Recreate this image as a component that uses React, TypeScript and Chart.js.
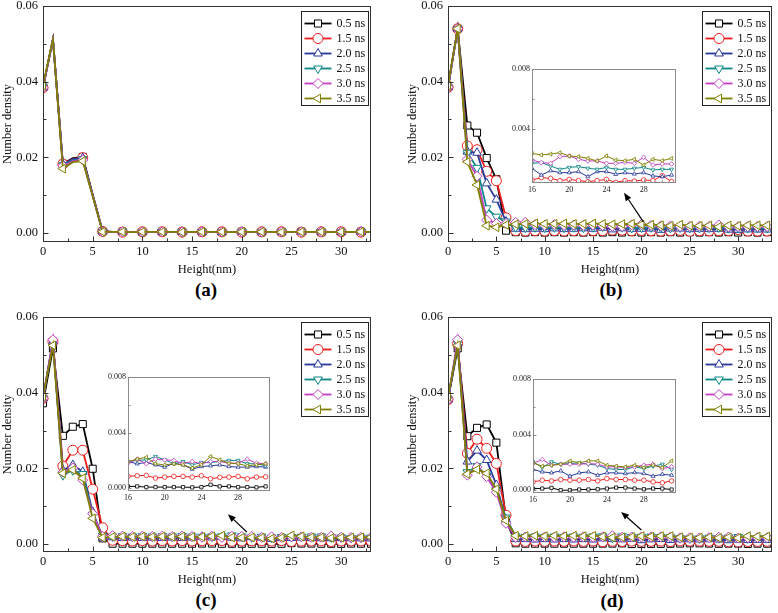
import React, { useEffect, useRef } from "react";
import { Chart, registerables } from "chart.js";

Chart.register(...registerables);

// ---------------- DATA ----------------
const HEIGHTS = [0, 1, 2, 3, 4, 5, 6, 7, 8, 9, 10, 11, 12, 13, 14, 15, 16, 17, 18, 19, 20, 21, 22, 23, 24, 25, 26, 27, 28, 29, 30, 31, 32, 33];
const SERIES_LABELS = ["0.5 ns", "1.5 ns", "2.0 ns", "2.5 ns", "3.0 ns", "3.5 ns"];
const SERIES_COLORS = ["#000000", "#ee1c1c", "#27389a", "#0e8787", "#c23ec2", "#808000"];
const POINT_STYLES = ["rect", "circle", "triangle", "triangle", "rectRot", "triangle"];
const POINT_ROTATIONS = [0, 0, 0, 180, 0, 270];

const MAIN_X_TICKS = [0, 5, 10, 15, 20, 25, 30];
const MAIN_Y_TICKS = [0, 0.02, 0.04, 0.06];
const INSET_X_TICKS = [16, 20, 24, 28];
const INSET_Y_TICKS = [0, 0.004, 0.008];
const INSET_HEIGHT_RANGE = [16, 31];
const X_TITLE = "Height(nm)";
const Y_TITLE = "Number density";
const PANEL_LETTERS = ["(a)", "(b)", "(c)", "(d)"];

// panel (a)
const A_05 = [0.0385, 0.0512, 0.0183, 0.0198, 0.0201, 0.0101,
  0.0004, 0.0003, 0.0003, 0.0003, 0.0002, 0.0003, 0.0003, 0.0002, 0.0003, 0.0003,
  0.0002, 0.0003, 0.0003, 0.0002, 0.0003, 0.0003, 0.0002, 0.0003, 0.0003, 0.0002,
  0.0003, 0.0003, 0.0002, 0.0003, 0.0003, 0.0002, 0.0003, 0.0003];
const A_15 = [0.0384, 0.0512, 0.0182, 0.0196, 0.0199, 0.0100,
  0.0004, 0.0003, 0.0002, 0.0003, 0.0003, 0.0002, 0.0003, 0.0003, 0.0002, 0.0003,
  0.0003, 0.0002, 0.0003, 0.0003, 0.0002, 0.0003, 0.0003, 0.0002, 0.0003, 0.0003,
  0.0002, 0.0003, 0.0003, 0.0002, 0.0003, 0.0003, 0.0002, 0.0003];
const A_20 = [0.0384, 0.0512, 0.0181, 0.0195, 0.0198, 0.0100,
  0.0004, 0.0003, 0.0003, 0.0002, 0.0003, 0.0003, 0.0002, 0.0003, 0.0003, 0.0002,
  0.0003, 0.0003, 0.0002, 0.0003, 0.0003, 0.0002, 0.0003, 0.0003, 0.0002, 0.0003,
  0.0003, 0.0002, 0.0003, 0.0003, 0.0002, 0.0003, 0.0003, 0.0002];
const A_25 = [0.0386, 0.0512, 0.0179, 0.0192, 0.0195, 0.0099,
  0.0003, 0.0003, 0.0003, 0.0003, 0.0002, 0.0003, 0.0003, 0.0003, 0.0002, 0.0003,
  0.0003, 0.0003, 0.0002, 0.0003, 0.0003, 0.0003, 0.0002, 0.0003, 0.0003, 0.0003,
  0.0002, 0.0003, 0.0003, 0.0003, 0.0002, 0.0003, 0.0003, 0.0003];
const A_30 = [0.0384, 0.0512, 0.0177, 0.0190, 0.0193, 0.0098,
  0.0003, 0.0002, 0.0003, 0.0003, 0.0003, 0.0002, 0.0003, 0.0003, 0.0003, 0.0002,
  0.0003, 0.0003, 0.0003, 0.0002, 0.0003, 0.0003, 0.0003, 0.0002, 0.0003, 0.0003,
  0.0003, 0.0002, 0.0003, 0.0003, 0.0003, 0.0002, 0.0003, 0.0003];
const A_35 = [0.0390, 0.0512, 0.0170, 0.0187, 0.0190, 0.0097,
  0.0003, 0.0003, 0.0003, 0.0002, 0.0003, 0.0003, 0.0003, 0.0003, 0.0002, 0.0003,
  0.0003, 0.0003, 0.0003, 0.0002, 0.0003, 0.0003, 0.0003, 0.0003, 0.0002, 0.0003,
  0.0003, 0.0003, 0.0003, 0.0002, 0.0003, 0.0003, 0.0003, 0.0003];

// panel (b)
const B_05 = [0.0385, 0.0540, 0.0284, 0.0265, 0.0198, 0.0142,
  0.0006, 0.0002, 0.0001, 0.0002, 0.0001, 0.0002, 0.0001, 0.0002, 0.0001, 0.0002,
  0.0001, 0.0002, 0.0001, 0.0002, 0.0001, 0.0002, 0.0001, 0.0002, 0.0001, 0.0002,
  0.0001, 0.0002, 0.0001, 0.0002, 0.0001, 0.0002, 0.0001, 0.0002];
const B_15 = [0.0385, 0.0540, 0.0230, 0.0220, 0.0163, 0.0138,
  0.0040, 0.0006, 0.0005, 0.0006, 0.0005, 0.0006, 0.0005, 0.0006, 0.0005, 0.0006,
  0.0006, 0.00076, 0.00071, 0.00056, 0.00064, 0.00056, 0.00049, 0.00056, 0.00064, 0.00044,
  0.00056, 0.00053, 0.0006, 0.00056, 0.00089, 0.00049, 0.0005, 0.0005];
const B_20 = [0.0385, 0.0540, 0.0215, 0.0212, 0.0131, 0.0088,
  0.0030, 0.0011, 0.0010, 0.0011, 0.0010, 0.0012, 0.0010, 0.0011, 0.0012, 0.0011,
  0.00138, 0.00093, 0.00122, 0.00109, 0.00109, 0.00116, 0.00082, 0.00116, 0.00116, 0.00098,
  0.00109, 0.0010, 0.00109, 0.00087, 0.00082, 0.00093, 0.0009, 0.0009];
const B_25 = [0.0385, 0.0540, 0.0212, 0.0172, 0.0065, 0.0043,
  0.0030, 0.0015, 0.0014, 0.0015, 0.0014, 0.0015, 0.0014, 0.0015, 0.0014, 0.0015,
  0.00171, 0.00176, 0.00153, 0.00131, 0.00144, 0.00149, 0.00138, 0.00131, 0.00144, 0.00131,
  0.00131, 0.00138, 0.00144, 0.00127, 0.00131, 0.00131, 0.0013, 0.0013];
const B_30 = [0.0385, 0.0540, 0.0195, 0.0150, 0.0034, 0.0025,
  0.0025, 0.0028, 0.0028, 0.0022, 0.0020, 0.0022, 0.0020, 0.0021, 0.0020, 0.0021,
  0.00193, 0.00176, 0.00171, 0.00216, 0.0022, 0.00198, 0.00187, 0.00187, 0.00171, 0.00171,
  0.00178, 0.00171, 0.00211, 0.0016, 0.00167, 0.00167, 0.0017, 0.0017];
const B_35 = [0.0390, 0.0540, 0.0188, 0.0127, 0.0019, 0.0015,
  0.0021, 0.0023, 0.0024, 0.0025, 0.0024, 0.0024, 0.0025, 0.0024, 0.0024, 0.0025,
  0.00238, 0.00227, 0.00233, 0.00242, 0.0022, 0.00216, 0.00204, 0.00187, 0.0022, 0.00193,
  0.00189, 0.00198, 0.0016, 0.00198, 0.00189, 0.00204, 0.0020, 0.0020];

// panel (c)
const C_05 = [0.0372, 0.0517, 0.0286, 0.0310, 0.0317, 0.0199,
  0.0015, 0.0001, 0.0001, 0.0001, 0.0001, 0.0001, 0.0001, 0.0001, 0.0001, 0.0001,
  0.00013, 0.00013, 0.00008, 0.00008, 0.00008, 0.00008, 0.00008, 0.00006, 0.00008, 0.00025,
  0.00013, 0.00013, 0.00008, 0.00008, 0.00006, 0.00013, 0.0001, 0.0001];
const C_15 = [0.0385, 0.0535, 0.0206, 0.0248, 0.0248, 0.0145,
  0.0043, 0.0010, 0.0009, 0.0008, 0.0009, 0.0008, 0.0009, 0.0008, 0.0009, 0.0008,
  0.00085, 0.0009, 0.00092, 0.00073, 0.0008, 0.00085, 0.00085, 0.0008, 0.0009, 0.00068,
  0.00078, 0.0008, 0.00085, 0.00068, 0.0008, 0.00082, 0.0008, 0.0008];
const C_20 = [0.0385, 0.0535, 0.0195, 0.0209, 0.0191, 0.0085,
  0.0017, 0.0018, 0.0016, 0.0017, 0.0016, 0.0017, 0.0016, 0.0017, 0.0016, 0.0017,
  0.00192, 0.00176, 0.00185, 0.00168, 0.00152, 0.0018, 0.00168, 0.00137, 0.00156, 0.00161,
  0.00168, 0.00156, 0.00152, 0.00152, 0.00156, 0.00152, 0.0015, 0.0015];
const C_25 = [0.0385, 0.0535, 0.0182, 0.0195, 0.0185, 0.0077,
  0.0022, 0.0020, 0.0021, 0.0020, 0.0021, 0.0020, 0.0021, 0.0020, 0.0021, 0.0020,
  0.00192, 0.0020, 0.00204, 0.00228, 0.00204, 0.00176, 0.00192, 0.00168, 0.00185, 0.00185,
  0.00192, 0.0020, 0.0020, 0.00176, 0.00176, 0.00161, 0.0017, 0.0017];
const C_30 = [0.0385, 0.0540, 0.0190, 0.0201, 0.0169, 0.0080,
  0.0020, 0.0022, 0.0021, 0.0020, 0.0021, 0.0020, 0.0021, 0.0020, 0.0021, 0.0020,
  0.0018, 0.00209, 0.00176, 0.00209, 0.00204, 0.0020, 0.00176, 0.00192, 0.00176, 0.00192,
  0.00192, 0.0018, 0.0018, 0.00209, 0.0018, 0.00176, 0.0018, 0.0018];
const C_35 = [0.0390, 0.0525, 0.0187, 0.0196, 0.0174, 0.0068,
  0.0017, 0.0019, 0.0020, 0.0019, 0.0020, 0.0019, 0.0020, 0.0019, 0.0020, 0.0019,
  0.00192, 0.00209, 0.00223, 0.00176, 0.00168, 0.00176, 0.00168, 0.00145, 0.00168, 0.00228,
  0.00204, 0.0018, 0.00176, 0.00161, 0.00168, 0.00176, 0.0018, 0.0018];

// panel (d)
const D_05 = [0.0382, 0.0517, 0.0285, 0.0307, 0.0316, 0.0268,
  0.0063, 0.0002, 0.0001, 0.0001, 0.0001, 0.0001, 0.0001, 0.0001, 0.0001, 0.0001,
  0.00012, 0.00012, 0.00017, 0.0000, 0.0000, 0.00005, 0.00005, 0.00007, 0.00012, 0.00019,
  0.00019, 0.00012, 0.00007, 0.00012, 0.00012, 0.00005, 0.0001, 0.0001];
const D_15 = [0.0382, 0.0530, 0.0240, 0.0277, 0.0253, 0.0213,
  0.0076, 0.0008, 0.0007, 0.0008, 0.0007, 0.0008, 0.0007, 0.0008, 0.0007, 0.0008,
  0.0006, 0.00072, 0.00067, 0.00077, 0.00072, 0.00072, 0.00077, 0.00067, 0.00084, 0.00077,
  0.00077, 0.00072, 0.00072, 0.0006, 0.00053, 0.00067, 0.0007, 0.0007];
const D_20 = [0.0382, 0.0530, 0.0218, 0.0247, 0.0222, 0.0156,
  0.0065, 0.0013, 0.0013, 0.0012, 0.0013, 0.0012, 0.0013, 0.0012, 0.0013, 0.0012,
  0.00149, 0.00132, 0.00125, 0.00139, 0.00101, 0.00125, 0.00132, 0.00108, 0.00125, 0.00125,
  0.0012, 0.00127, 0.0012, 0.00101, 0.00115, 0.00108, 0.0011, 0.0011];
const D_25 = [0.0382, 0.0530, 0.0190, 0.0206, 0.0180, 0.0140,
  0.0070, 0.0020, 0.0019, 0.0020, 0.0019, 0.0020, 0.0019, 0.0020, 0.0019, 0.0020,
  0.00204, 0.00163, 0.00204, 0.00187, 0.00192, 0.00197, 0.00187, 0.0018, 0.00156, 0.00149,
  0.00149, 0.00168, 0.00156, 0.00173, 0.00187, 0.00149, 0.0016, 0.0016];
const D_30 = [0.0382, 0.0540, 0.0182, 0.0204, 0.0178, 0.0137,
  0.0055, 0.0018, 0.0019, 0.0018, 0.0019, 0.0018, 0.0019, 0.0018, 0.0019, 0.0018,
  0.00192, 0.00221, 0.0018, 0.00187, 0.00187, 0.00187, 0.00192, 0.00187, 0.00168, 0.00168,
  0.00163, 0.00168, 0.0018, 0.00187, 0.00156, 0.00168, 0.0017, 0.0017];
const D_35 = [0.0390, 0.0525, 0.0185, 0.0197, 0.0187, 0.0145,
  0.0062, 0.0022, 0.0021, 0.0022, 0.0021, 0.0022, 0.0021, 0.0022, 0.0021, 0.0022,
  0.00197, 0.00173, 0.0018, 0.00187, 0.00211, 0.00197, 0.00211, 0.00211, 0.0018, 0.00173,
  0.00168, 0.0018, 0.00163, 0.0018, 0.00163, 0.00211, 0.0020, 0.0020];

const PANEL_SERIES = [
  [A_05, A_15, A_20, A_25, A_30, A_35],
  [B_05, B_15, B_20, B_25, B_30, B_35],
  [C_05, C_15, C_20, C_25, C_30, C_35],
  [D_05, D_15, D_20, D_25, D_30, D_35],
];

// ---------------- LAYOUT / STYLE ----------------
const FONT = "'Liberation Serif', 'Times New Roman', serif";
const TEXT = "#111111";

const PANELS = [
  { left: 0, top: -8, width: 380, height: 285, padRight: 9, xMax: 33, yMin: -0.0024, markEvery: 2,
    letter: { x: 206, y: 290 }, inset: null, arrow: null },
  { left: 405, top: -8, width: 373, height: 285, padRight: 2, xMax: 33.5, yMin: -0.0024, markEvery: 1,
    letter: { x: 611, y: 290 },
    inset: { left: 510, top: 61, width: 171, height: 134, yMin: 0.0004 },
    arrow: { from: [20.2, 0.0029], to: [18.2, 0.0106] } },
  { left: 0, top: 303, width: 380, height: 284, padRight: 9, xMax: 33, yMin: -0.0021, markEvery: 1,
    letter: { x: 206, y: 600 },
    inset: { left: 106, top: 369, width: 169, height: 134, yMin: -0.0002 },
    arrow: { from: [20.5, 0.0032], to: [18.6, 0.0079] } },
  { left: 405, top: 303, width: 373, height: 284, padRight: 2, xMax: 33.5, yMin: -0.0021, markEvery: 1,
    letter: { x: 612, y: 601 },
    inset: { left: 511, top: 371, width: 170, height: 134, yMin: -0.0002 },
    arrow: { from: [20.0, 0.0037], to: [17.9, 0.0085] } },
];

function drawMarker(ctx: CanvasRenderingContext2D, style: string, rotDeg: number, x: number, y: number, r: number) {
  ctx.beginPath();
  if (style === "circle") {
    ctx.arc(x, y, r, 0, Math.PI * 2);
  } else if (style === "rect") {
    const s = r * Math.SQRT1_2;
    ctx.rect(x - s, y - s, 2 * s, 2 * s);
  } else if (style === "rectRot") {
    ctx.moveTo(x, y - r);
    ctx.lineTo(x + r, y);
    ctx.lineTo(x, y + r);
    ctx.lineTo(x - r, y);
    ctx.closePath();
  } else {
    const rot = (rotDeg * Math.PI) / 180;
    for (let k = 0; k < 3; k++) {
      const a = rot - Math.PI / 2 + (k * 2 * Math.PI) / 3;
      const px = x + r * Math.cos(a);
      const py = y + r * Math.sin(a);
      if (k === 0) ctx.moveTo(px, py);
      else ctx.lineTo(px, py);
    }
    ctx.closePath();
  }
  ctx.fill();
  ctx.stroke();
}

function minorOf(major: number[]) {
  const step = major[1] - major[0];
  return major.map((v) => v + step / 2);
}

function framePlugin(opts: any) {
  return {
    id: "frameTicks",
    afterDatasetsDraw(chart: any) {
      const { ctx, chartArea: a, scales } = chart;
      const x = scales.x;
      const y = scales.y;
      ctx.save();
      ctx.strokeStyle = opts.color;
      ctx.lineWidth = 1;
      const L = Math.round(a.left) + 0.5;
      const T = Math.round(a.top) + 0.5;
      const R = Math.round(a.right) - 0.5;
      const B = Math.round(a.bottom) - 0.5;
      ctx.strokeRect(L, T, R - L, B - T);
      ctx.beginPath();
      const xt = (vals: number[], len: number) => {
        vals.forEach((v) => {
          if (v < x.min || v > x.max) return;
          const px = Math.round(x.getPixelForValue(v)) + 0.5;
          ctx.moveTo(px, B);
          ctx.lineTo(px, B - len);
        });
      };
      const yt = (vals: number[], len: number) => {
        vals.forEach((v) => {
          if (v < y.min || v > y.max) return;
          const py = Math.round(y.getPixelForValue(v)) + 0.5;
          ctx.moveTo(L, py);
          ctx.lineTo(L + len, py);
        });
      };
      xt(opts.xMajor, opts.major);
      xt(minorOf(opts.xMajor), opts.minor);
      yt(opts.yMajor, opts.major);
      yt(minorOf(opts.yMajor), opts.minor);
      ctx.stroke();
      ctx.restore();
    },
  };
}

const legendPlugin = {
  id: "boxLegend",
  afterDraw(chart: any) {
    const { ctx, chartArea: a } = chart;
    const w = 67;
    const h = 94;
    const bx = Math.round(a.right - 3 - w) + 0.5;
    const by = Math.round(a.top + 5) + 0.5;
    ctx.save();
    ctx.fillStyle = "#ffffff";
    ctx.fillRect(bx, by, w, h);
    ctx.strokeStyle = "#222222";
    ctx.lineWidth = 1;
    ctx.strokeRect(bx, by, w, h);
    chart.data.datasets.forEach((ds: any, i: number) => {
      const yy = by + 12 + i * 15;
      ctx.strokeStyle = ds.borderColor;
      ctx.lineWidth = 1.8;
      ctx.beginPath();
      ctx.moveTo(bx + 3, yy);
      ctx.lineTo(bx + 30, yy);
      ctx.stroke();
      ctx.lineWidth = 1;
      ctx.fillStyle = "#ffffff";
      drawMarker(ctx, ds.pointStyle, ds.pointRotation, bx + 16.5, yy, 5);
      ctx.fillStyle = TEXT;
      ctx.font = `12px ${FONT}`;
      ctx.textBaseline = "middle";
      ctx.textAlign = "left";
      ctx.fillText(ds.label, bx + 35, yy + 0.5);
    });
    ctx.restore();
  },
};

function arrowPlugin(arrow: any) {
  return {
    id: "arrow",
    afterDraw(chart: any) {
      if (!arrow) return;
      const { ctx, scales } = chart;
      const x1 = scales.x.getPixelForValue(arrow.from[0]);
      const y1 = scales.y.getPixelForValue(arrow.from[1]);
      const x2 = scales.x.getPixelForValue(arrow.to[0]);
      const y2 = scales.y.getPixelForValue(arrow.to[1]);
      const ang = Math.atan2(y2 - y1, x2 - x1);
      const hl = 8;
      const hw = 3.2;
      const bxp = x2 - hl * Math.cos(ang);
      const byp = y2 - hl * Math.sin(ang);
      ctx.save();
      ctx.strokeStyle = "#000";
      ctx.fillStyle = "#000";
      ctx.lineWidth = 1.2;
      ctx.beginPath();
      ctx.moveTo(x1, y1);
      ctx.lineTo(bxp, byp);
      ctx.stroke();
      ctx.beginPath();
      ctx.moveTo(x2, y2);
      ctx.lineTo(bxp + hw * Math.sin(ang), byp - hw * Math.cos(ang));
      ctx.lineTo(bxp - hw * Math.sin(ang), byp + hw * Math.cos(ang));
      ctx.closePath();
      ctx.fill();
      ctx.restore();
    },
  };
}

function makeDatasets(series: number[][], opts: any) {
  return series.map((vals, i) => ({
    label: SERIES_LABELS[i],
    data: HEIGHTS.map((h, j) => ({ x: h, y: vals[j] })).filter(
      (p) => p.x >= opts.hMin && p.x <= opts.hMax
    ),
    borderColor: SERIES_COLORS[i],
    borderWidth: opts.lineWidth,
    pointStyle: POINT_STYLES[i],
    pointRotation: POINT_ROTATIONS[i],
    pointRadius: (c: any) => (c.dataIndex % opts.markEvery === 0 ? opts.radius : 0),
    pointBorderWidth: opts.pointBorder,
    pointBorderColor: SERIES_COLORS[i],
    pointBackgroundColor: "#ffffff",
    tension: 0,
    fill: false,
    order: series.length - i,
  }));
}

const NO_GRID = { display: false, drawTicks: false, tickLength: 0 };

function mainConfig(p: any, series: number[][]) {
  const tickFont = { family: FONT, size: 12.5 };
  return {
    type: "line",
    data: {
      datasets: makeDatasets(series, {
        hMin: HEIGHTS[0], hMax: HEIGHTS[HEIGHTS.length - 1],
        lineWidth: 1.8, radius: 5, pointBorder: 1, markEvery: p.markEvery,
      }),
    },
    options: {
      animation: false,
      responsive: false,
      maintainAspectRatio: false,
      devicePixelRatio: 1,
      events: [],
      layout: { padding: { top: 14, right: p.padRight, bottom: 0, left: 0 } },
      plugins: { legend: { display: false }, tooltip: { enabled: false } },
      scales: {
        x: {
          type: "linear",
          min: 0,
          max: p.xMax,
          grid: NO_GRID,
          border: { display: false },
          afterBuildTicks: (s: any) => {
            s.ticks = MAIN_X_TICKS.filter((v) => v >= s.min && v <= s.max).map((v) => ({ value: v }));
          },
          afterFit: (s: any) => { s.height = 35; },
          ticks: { font: tickFont, color: TEXT, padding: 2, maxRotation: 0, autoSkip: false, callback: (v: any) => String(v) },
          title: { display: true, text: X_TITLE, font: tickFont, color: TEXT, padding: 0 },
        },
        y: {
          type: "linear",
          min: p.yMin,
          max: 0.06,
          grid: NO_GRID,
          border: { display: false },
          afterBuildTicks: (s: any) => {
            s.ticks = MAIN_Y_TICKS.filter((v) => v >= s.min && v <= s.max + 1e-9).map((v) => ({ value: v }));
          },
          afterFit: (s: any) => { s.width = 43; },
          ticks: { font: tickFont, color: TEXT, padding: 5, autoSkip: false, callback: (v: any) => Number(v).toFixed(2) },
          title: { display: true, text: Y_TITLE, font: tickFont, color: TEXT, padding: 0 },
        },
      },
    },
    plugins: [
      framePlugin({ color: "#333333", xMajor: MAIN_X_TICKS, yMajor: MAIN_Y_TICKS, major: 5, minor: 3 }),
      legendPlugin,
      arrowPlugin(p.arrow),
    ],
  };
}

function insetConfig(p: any, series: number[][]) {
  const tickFont = { family: FONT, size: 8 };
  return {
    type: "line",
    data: {
      datasets: makeDatasets(series, {
        hMin: INSET_HEIGHT_RANGE[0], hMax: INSET_HEIGHT_RANGE[1],
        lineWidth: 1, radius: 2.3, pointBorder: 0.8, markEvery: 1,
      }),
    },
    options: {
      animation: false,
      responsive: false,
      maintainAspectRatio: false,
      devicePixelRatio: 1,
      events: [],
      layout: { padding: { top: 8, right: 2, bottom: 0, left: 0 } },
      plugins: { legend: { display: false }, tooltip: { enabled: false } },
      scales: {
        x: {
          type: "linear",
          min: INSET_HEIGHT_RANGE[0],
          max: INSET_HEIGHT_RANGE[1] + 0.5,
          grid: NO_GRID,
          border: { display: false },
          afterBuildTicks: (s: any) => {
            s.ticks = INSET_X_TICKS.map((v) => ({ value: v }));
          },
          afterFit: (s: any) => { s.height = 12; },
          ticks: { font: tickFont, color: "#222", padding: 2, maxRotation: 0, autoSkip: false, callback: (v: any) => String(v) },
        },
        y: {
          type: "linear",
          min: p.inset.yMin,
          max: 0.008,
          grid: NO_GRID,
          border: { display: false },
          afterBuildTicks: (s: any) => {
            s.ticks = INSET_Y_TICKS.filter((v) => v >= s.min - 1e-9 && v <= s.max + 1e-9).map((v) => ({ value: v }));
          },
          afterFit: (s: any) => { s.width = 22; },
          ticks: { font: tickFont, color: "#222", padding: 2, autoSkip: false, callback: (v: any) => Number(v).toFixed(3) },
        },
      },
    },
    plugins: [framePlugin({ color: "#8a8a8a", xMajor: INSET_X_TICKS, yMajor: INSET_Y_TICKS, major: 3, minor: 2 })],
  };
}

function ChartCanvas(props: { left: number; top: number; width: number; height: number; build: () => any }) {
  const ref = useRef<HTMLCanvasElement | null>(null);
  useEffect(() => {
    const chart = new Chart(ref.current as HTMLCanvasElement, props.build());
    return () => chart.destroy();
  }, []);
  return (
    <canvas
      ref={ref}
      width={props.width}
      height={props.height}
      style={{ position: "absolute", left: props.left, top: props.top, width: props.width, height: props.height, display: "block" }}
    />
  );
}

export default function App() {
  return (
    <div style={{ position: "absolute", left: 0, top: 0, width: 778, height: 613, background: "#ffffff", overflow: "hidden" }}>
      {PANELS.map((p, i) => (
        <React.Fragment key={i}>
          <ChartCanvas left={p.left} top={p.top} width={p.width} height={p.height} build={() => mainConfig(p, PANEL_SERIES[i])} />
          {p.inset && (
            <ChartCanvas
              left={p.inset.left}
              top={p.inset.top}
              width={p.inset.width}
              height={p.inset.height}
              build={() => insetConfig(p, PANEL_SERIES[i])}
            />
          )}
          <div
            style={{
              position: "absolute",
              left: p.letter.x - 30,
              top: p.letter.y - 11,
              width: 60,
              textAlign: "center",
              font: `bold 19px ${FONT}`,
              lineHeight: "22px",
              color: "#000",
            }}
          >
            {PANEL_LETTERS[i]}
          </div>
        </React.Fragment>
      ))}
    </div>
  );
}
